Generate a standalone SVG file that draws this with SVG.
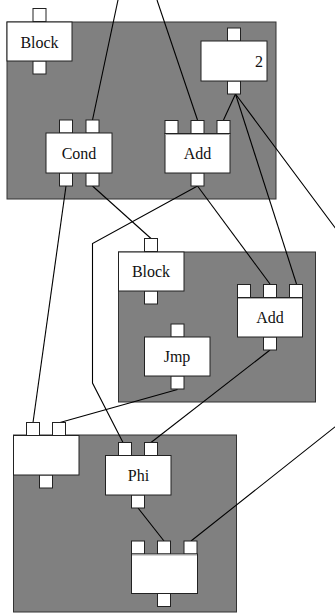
<svg xmlns="http://www.w3.org/2000/svg" width="335" height="613" viewBox="0 0 335 613">
<style>
.cl{fill:#808080;stroke:#333;stroke-width:1}
.nd{fill:#fff;stroke:#222;stroke-width:1}
.pt{fill:#fff;stroke:#222;stroke-width:1}
.sep{stroke:#aaa;stroke-width:1}
.e{fill:none;stroke:#000;stroke-width:1.1}
.t{font-family:'Liberation Serif','Times New Roman',serif;font-size:16px;fill:#111;text-anchor:middle}
</style>
<g id="clusters">
<rect class="cl" x="7" y="22" width="269" height="177"/>
<rect class="cl" x="118.5" y="252" width="197" height="150"/>
<rect class="cl" x="13.5" y="435" width="223" height="177"/>
</g>
<g id="connectors">
<path class="e" d="M118,0 L92.5,120"/>
<path class="e" d="M157,0 L197.5,120"/>
<path class="e" d="M235.5,94 L223.5,120"/>
<path class="e" d="M235.5,94 L296.5,284"/>
<path class="e" d="M235.5,94 L345,241 L345,419 L191,541"/>
<path class="e" d="M197.5,186 L270,284"/>
<path class="e" d="M197.5,186 L92.5,243.5 L92.5,383 L123,442.5"/>
<path class="e" d="M92.5,186 L151,238.5"/>
<path class="e" d="M66,186 L33,422.5"/>
<path class="e" d="M177.5,389.5 L60,422.5"/>
<path class="e" d="M270,350 L151,442.5"/>
<path class="e" d="M138,508 L164,541"/>
</g>
<g id="block1">
<rect class="pt" x="33" y="8.5" width="13" height="13"/>
<rect class="pt" x="33" y="61" width="13" height="13"/>
<rect class="nd" x="7" y="22" width="65" height="39"/>
<text class="t" x="39.5" y="47.5">Block</text>
</g>
<g id="cond">
<rect class="pt" x="59.5" y="120" width="13" height="13"/>
<rect class="pt" x="86" y="120" width="13" height="13"/>
<rect class="pt" x="59.5" y="173" width="13" height="13"/>
<rect class="pt" x="86" y="173" width="13" height="13"/>
<rect class="nd" x="46" y="133" width="66" height="40"/>
<text class="t" x="79" y="158.5">Cond</text>
</g>
<g id="add1">
<rect class="pt" x="165" y="120.5" width="13" height="13"/>
<rect class="pt" x="191" y="120.5" width="13" height="13"/>
<rect class="pt" x="217" y="120.5" width="13" height="13"/>
<rect class="pt" x="191" y="173" width="13" height="13"/>
<rect class="nd" x="165" y="133.5" width="65" height="39.5"/>
<line class="sep" x1="165.5" y1="134.5" x2="229.5" y2="134.5"/>
<text class="t" x="197.5" y="158.5">Add</text>
</g>
<g id="const2">
<rect class="pt" x="227.5" y="28" width="13" height="13"/>
<rect class="pt" x="227.5" y="81" width="13" height="13"/>
<rect class="nd" x="201" y="41" width="66" height="40"/>
<text class="t" x="263" y="67" style="text-anchor:end">2</text>
</g>
<g id="block2">
<rect class="pt" x="144.5" y="238.5" width="13" height="13"/>
<rect class="pt" x="144.5" y="291" width="13" height="13"/>
<rect class="nd" x="118.5" y="252" width="65.5" height="39"/>
<text class="t" x="151" y="277">Block</text>
</g>
<g id="add2">
<rect class="pt" x="237.5" y="284.5" width="13" height="13"/>
<rect class="pt" x="263.5" y="284.5" width="13" height="13"/>
<rect class="pt" x="289.5" y="284.5" width="13" height="13"/>
<rect class="pt" x="263.5" y="337" width="13" height="13"/>
<rect class="nd" x="237.5" y="297.5" width="65" height="39.5"/>
<line class="sep" x1="238" y1="298.5" x2="302" y2="298.5"/>
<text class="t" x="270" y="322.5">Add</text>
</g>
<g id="jmp">
<rect class="pt" x="171" y="324" width="13" height="13"/>
<rect class="pt" x="171" y="376" width="13" height="13"/>
<rect class="nd" x="144.5" y="337" width="65.5" height="39"/>
<text class="t" x="177" y="362">Jmp</text>
</g>
<g id="merge">
<rect class="pt" x="26.5" y="422.5" width="13" height="13"/>
<rect class="pt" x="52.5" y="422.5" width="13" height="13"/>
<rect class="pt" x="39.5" y="475" width="13" height="13"/>
<rect class="nd" x="13.5" y="435.5" width="65.5" height="39.5"/>
</g>
<g id="phi">
<rect class="pt" x="118.5" y="442.5" width="13" height="13"/>
<rect class="pt" x="144.5" y="442.5" width="13" height="13"/>
<rect class="pt" x="131.5" y="495" width="13" height="13"/>
<rect class="nd" x="105.5" y="455.5" width="65.5" height="39.5"/>
<text class="t" x="138.5" y="480.5">Phi</text>
</g>
<g id="bottom">
<rect class="pt" x="131.5" y="541" width="13" height="13"/>
<rect class="pt" x="157.5" y="541" width="13" height="13"/>
<rect class="pt" x="184" y="541" width="13" height="13"/>
<rect class="pt" x="157.5" y="593.5" width="13" height="13"/>
<rect class="nd" x="131.5" y="554" width="66" height="39.5"/>
<line class="sep" x1="132" y1="555" x2="197" y2="555"/>
</g>
</svg>
